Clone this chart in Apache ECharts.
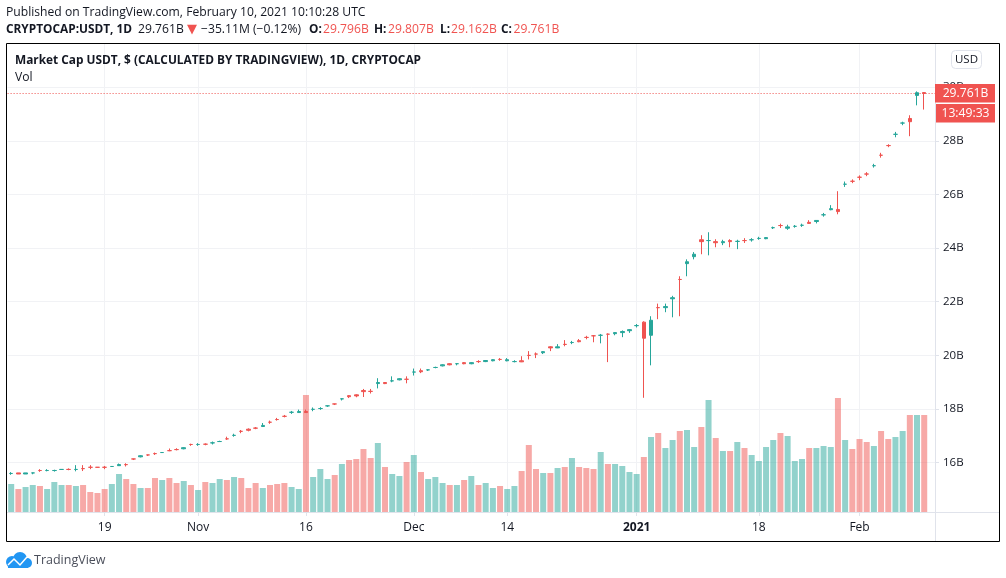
<!DOCTYPE html>
<html><head><meta charset="utf-8">
<style>html,body{margin:0;padding:0;background:#fff}#c{width:1006px;height:578px}</style>
<script src="https://cdn.jsdelivr.net/npm/echarts@6/dist/echarts.min.js"></script>
</head><body><div id="c"></div>
<script>
const opens=[15.599,15.62,15.58,15.619,15.711,15.709,15.709,15.749,15.751,15.749,15.781,15.831,15.831,15.831,15.859,15.89,15.931,16.141,16.22,16.291,16.341,16.379,16.451,16.491,16.52,16.681,16.679,16.691,16.739,16.789,16.891,17.019,17.171,17.25,17.291,17.35,17.511,17.611,17.731,17.879,17.87,17.91,17.989,18.019,18.119,18.191,18.379,18.50,18.53,18.69,18.661,18.95,18.99,19.049,19.09,19.111,19.379,19.43,19.459,19.549,19.61,19.69,19.689,19.73,19.69,19.771,19.77,19.80,19.851,19.80,19.769,19.80,20.001,20.051,20.10,20.32,20.28,20.411,20.479,20.55,20.671,20.731,20.749,20.791,20.81,20.85,20.92,21.109,21.24,20.75,21.781,21.78,22.11,22.831,23.42,23.68,24.31,24.279,24.24,24.20,24.28,24.249,24.281,24.309,24.359,24.35,24.759,24.841,24.74,24.809,24.849,24.96,24.99,25.239,25.43,25.44,26.379,26.491,26.641,26.761,27.069,27.461,27.821,28.239,28.659,28.83,29.69,29.796];
const closes=[15.601,15.58,15.62,15.621,15.709,15.711,15.711,15.751,15.749,15.751,15.779,15.829,15.829,15.829,15.861,15.93,15.929,16.139,16.26,16.289,16.339,16.381,16.449,16.489,16.56,16.679,16.681,16.689,16.741,16.791,16.889,17.021,17.169,17.21,17.289,17.39,17.509,17.609,17.729,17.881,17.91,17.87,17.991,18.021,18.121,18.189,18.381,18.46,18.49,18.65,18.659,18.99,18.95,19.051,19.13,19.109,19.381,19.39,19.461,19.551,19.65,19.65,19.691,19.69,19.73,19.769,19.81,19.84,19.849,19.84,19.771,19.76,19.999,20.049,20.14,20.28,20.32,20.409,20.481,20.51,20.669,20.729,20.751,20.789,20.85,20.89,20.96,21.111,20.64,21.31,21.779,21.82,22.15,22.829,23.49,23.77,24.24,24.281,24.20,24.24,24.24,24.251,24.279,24.311,24.361,24.39,24.761,24.839,24.79,24.811,24.851,24.92,25.03,25.241,25.47,25.36,26.381,26.489,26.639,26.759,27.071,27.459,27.819,28.241,28.661,28.71,29.79,29.761];
const lows=[15.55,15.58,15.58,15.57,15.66,15.68,15.67,15.74,15.72,15.68,15.69,15.76,15.82,15.76,15.85,15.88,15.86,16.10,16.20,16.25,16.29,16.37,16.43,16.46,16.50,16.63,16.63,16.65,16.68,16.78,16.85,16.97,17.10,17.17,17.25,17.33,17.45,17.57,17.69,17.82,17.86,17.86,17.92,17.97,18.08,18.15,18.32,18.41,18.44,18.45,18.58,18.77,18.93,19.00,19.07,18.96,19.25,19.34,19.42,19.52,19.59,19.63,19.63,19.67,19.67,19.72,19.75,19.78,19.80,19.78,19.74,19.75,19.85,19.90,20.05,20.16,20.27,20.34,20.42,20.49,20.60,20.49,20.45,19.75,20.75,20.68,20.84,21.04,18.42,19.63,21.35,21.61,21.42,21.46,22.95,23.58,23.77,23.73,24.03,24.11,24.03,23.96,24.19,24.24,24.31,24.33,24.71,24.75,24.68,24.76,24.79,24.90,24.92,25.17,25.41,25.26,26.28,26.42,26.53,26.68,27.00,27.37,27.76,28.13,28.58,28.17,29.32,29.162];
const highs=[15.65,15.62,15.62,15.63,15.76,15.76,15.74,15.76,15.79,15.91,15.91,15.91,15.84,15.88,15.87,15.97,15.98,16.15,16.28,16.30,16.38,16.39,16.53,16.54,16.58,16.71,16.73,16.72,16.79,16.82,16.97,17.08,17.22,17.28,17.33,17.48,17.57,17.67,17.78,17.93,17.98,17.98,18.06,18.07,18.13,18.20,18.39,18.52,18.55,18.75,18.75,19.15,19.00,19.22,19.15,19.22,19.51,19.51,19.47,19.58,19.67,19.71,19.70,19.75,19.75,19.82,19.82,19.86,19.90,19.90,19.82,19.97,20.16,20.11,20.16,20.34,20.42,20.57,20.54,20.61,20.73,20.76,20.80,20.82,20.86,20.93,20.98,21.17,21.27,21.46,21.93,21.93,22.22,22.95,23.58,23.85,24.48,24.59,24.33,24.31,24.33,24.31,24.37,24.37,24.42,24.41,24.80,24.91,24.87,24.86,24.91,25.04,25.04,25.31,25.60,26.12,26.48,26.56,26.71,26.83,27.14,27.55,27.87,28.33,28.71,28.95,29.84,29.807];
const volumes=[28,23,25,27,26,23,30,27,27,26,27,20,19,23,28,38,33,28,24,24,34,32,34,29,31,27,22,30,29,33,32,35,34,24,29,24,27,28,29,25,23,117,35,43,33,37,48,52,53,63,54,69,45,38,36,50,57,40,33,35,29,27,27,32,36,27,29,24,26,23,26,41,67,43,39,39,44,45,54,45,44,43,60,48,48,46,40,38,55,75,79,64,72,81,82,65,85,112,74,61,61,70,64,57,51,65,72,79,76,51,53,64,64,66,65,114,72,63,73,70,66,81,73,75,81,97,97,97];
const xTickLabels={13:'19',26:'Nov',41:'16',56:'Dec',69:'14',87:'2021',104:'18',118:'Feb'};
const lastPrice=29.761;

const UP='#26a69a',DOWN='#ef5350',TXT='#131722',FONT='"Open Sans"',GRIDC='#f1f2f5',AX='#e0e3eb';
const categories=[];
for(let i=0;i<129;i++){const d=new Date(Date.UTC(2020,9,6+i));categories.push(i<128?d.toISOString().slice(0,10):'');}
const candles=opens.map((o,i)=>[o,closes[i],lows[i],highs[i]]);
const vols=volumes.map((v,i)=>({value:v,itemStyle:{color:closes[i]>=opens[i]?'rgba(38,166,154,0.5)':'rgba(239,83,80,0.5)'}}));
const isTick=i=>xTickLabels[i]!==undefined;
const L=7.6,W=927.4;
function t(x,y,text,o){return {type:'text',x:x,y:y,z:100,style:Object.assign({text:text,fill:TXT,font:'12.15px '+FONT,textVerticalAlign:'middle'},o||{})};}
const RED='#f05350';
const B='bold 11.85px '+FONT;

const chart=echarts.init(document.getElementById('c'),null,{renderer:'canvas'});
chart.setOption({
 animation:false,backgroundColor:'#fff',
 grid:[
  {left:L,width:W,top:87.09,height:429.3,containLabel:false},
  {left:L,width:W,top:44,height:468,containLabel:false}
 ],
 xAxis:[
  {type:'category',gridIndex:0,data:categories,show:false},
  {type:'category',gridIndex:1,data:categories,
   axisLine:{show:true,lineStyle:{color:AX,width:1}},
   axisTick:{show:true,alignWithLabel:true,length:4,interval:i=>isTick(i),lineStyle:{color:AX}},
   splitLine:{show:true,alignWithLabel:true,interval:i=>isTick(i),lineStyle:{color:GRIDC,width:1}},
   axisLabel:{show:true,interval:i=>isTick(i),margin:10,hideOverlap:false,
     formatter:(v,i)=>i===87?'{b|2021}':(xTickLabels[i]||''),
     color:TXT,fontFamily:FONT,fontSize:12,rich:{b:{fontWeight:'bold',fontFamily:FONT,fontSize:12,color:TXT}}}}
 ],
 yAxis:[
  {type:'value',gridIndex:0,position:'right',min:14,max:30,interval:2,
   axisLine:{show:false},
   axisTick:{show:true,length:4,lineStyle:{color:AX}},
   splitLine:{show:true,showMinLine:false,lineStyle:{color:GRIDC,width:1}},
   axisLabel:{margin:8,showMinLabel:false,color:TXT,fontFamily:FONT,fontSize:11.5,padding:[2,0,0,0],formatter:v=>v+'B'}},
  {type:'value',gridIndex:1,position:'right',min:0,max:468,show:false,splitLine:{show:false}}
 ],
 series:[
  {type:'bar',name:'Vol',xAxisIndex:1,yAxisIndex:1,data:vols,barWidth:6,z:2},
  {type:'candlestick',name:'USDT',xAxisIndex:0,yAxisIndex:0,data:candles,barWidth:4,z:5,
   itemStyle:{color:UP,color0:DOWN,borderColor:UP,borderColor0:DOWN,borderWidth:1},
   markLine:{silent:true,symbol:'none',label:{show:false},animation:false,
     lineStyle:{color:DOWN,type:[1,2],width:1,opacity:1},data:[{yAxis:lastPrice}]}}
 ],
 graphic:[
  {type:'rect',shape:{x:6.5,y:43.5,width:993,height:498},z:90,style:{fill:'none',stroke:'#000',lineWidth:1}},
  {type:'line',shape:{x1:935.5,y1:44,x2:935.5,y2:541},z:89,style:{stroke:AX,lineWidth:1}},
  {type:'line',shape:{x1:7,y1:512.5,x2:999,y2:512.5},z:89,style:{stroke:AX,lineWidth:1}},
  t(6,13,'Published on TradingView.com, February 10, 2021 10:10:28 UTC'),
  t(6,30,'CRYPTOCAP:USDT, 1D',{font:B}),
  t(138,30,'29.761B'),
  t(187,30,'▼',{fill:RED,font:'13px "DejaVu Sans"'}),
  t(201,30,'−35.11M (−0.12%)'),
  t(309,30,'O:',{font:B}),t(323,30,'29.796B',{fill:RED}),
  t(374,30,'H:',{font:B}),t(388,30,'29.807B',{fill:RED}),
  t(440,30,'L:',{font:B}),t(451,30,'29.162B',{fill:RED}),
  t(501,30,'C:',{font:B}),t(513.5,30,'29.761B',{fill:RED}),
  t(15,60.5,'Market Cap USDT, $ (CALCULATED BY TRADINGVIEW), 1D, CRYPTOCAP',{font:B}),
  t(15,77.5,'Vol'),
  {type:'rect',shape:{x:951.5,y:50.5,width:30,height:18,r:4},z:100,style:{fill:'#fff',stroke:AX,lineWidth:1}},
  t(966.5,59.5,'USD',{textAlign:'center',font:'11.5px '+FONT}),
  {type:'rect',shape:{x:935,y:84,width:60,height:18.5},z:100,style:{fill:RED}},
  t(965.5,93.5,'29.761B',{textAlign:'center',fill:'#fff'}),
  {type:'rect',shape:{x:936,y:104,width:59,height:18.5},z:100,style:{fill:RED}},
  t(965.5,113.5,'13:49:33',{textAlign:'center',fill:'#fff'}),
  {type:'circle',z:100,shape:{cx:12,cy:562,r:6},style:{fill:'#2196f3'}},
  {type:'circle',z:100,shape:{cx:20,cy:559,r:7},style:{fill:'#2196f3'}},
  {type:'circle',z:100,shape:{cx:27,cy:563,r:5},style:{fill:'#2196f3'}},
  {type:'rect',z:100,shape:{x:8,y:562,width:20,height:6},style:{fill:'#2196f3'}},
  {type:'polyline',z:101,shape:{points:[[8,565],[14,559],[20,565],[27,557]]},style:{stroke:'#fff',lineWidth:1.5,fill:'none'}},
  t(34,560,'TradingView',{font:'12.5px '+FONT,fill:'#4a4e5a'})
 ]
});
</script></body></html>
